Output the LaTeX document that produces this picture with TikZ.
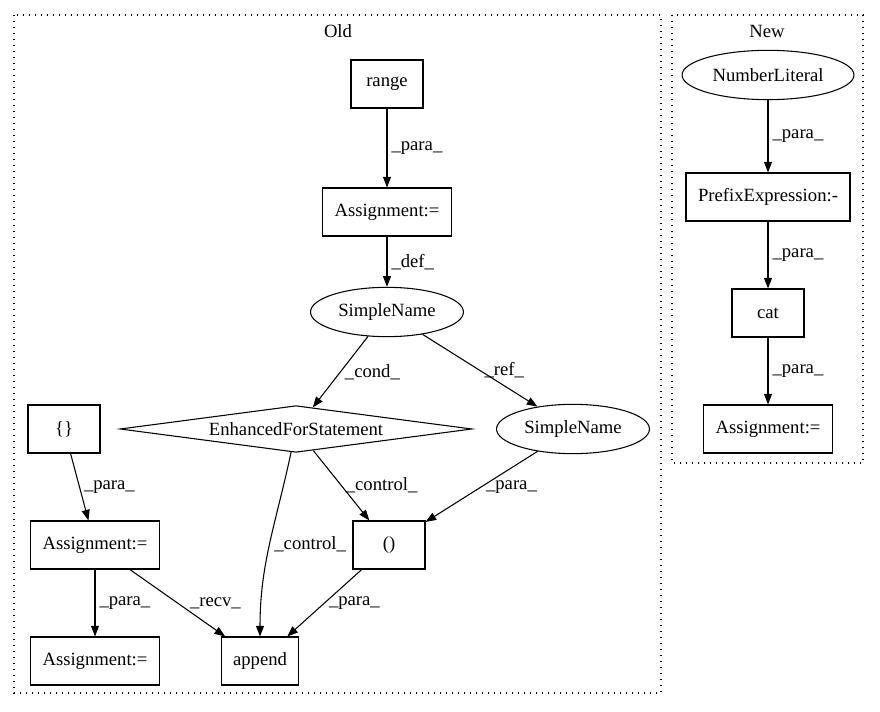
\documentclass[tikz,border=0pt]{standalone}
\usepackage{fontspec}
\setmainfont{Liberation Serif}
\usetikzlibrary{shapes.geometric,arrows.meta}

\tikzset{
  boite/.style={rectangle, draw, line width=0.8pt, minimum width=54pt, minimum height=36pt, inner xsep=9pt},
  ovale/.style={ellipse, draw, line width=0.8pt, minimum height=37pt, inner xsep=4pt},
  losange/.style={diamond, draw, line width=0.8pt, aspect=7.5, inner sep=0pt, minimum width=264pt, minimum height=35pt},
  fleche/.style={-{Triangle[length=8pt,width=6pt]}, line width=0.8pt},
  etiq/.style={anchor=west, inner sep=3pt},
  groupe/.style={draw, line width=0.8pt, dash pattern=on 0.8pt off 3.7pt}
}

\begin{document}
\begin{tikzpicture}[x=0.75pt, y=-0.75pt, font=\fontsize{14}{16}\selectfont]
    \useasboundingbox (0,0) rectangle (880,712);

    % Cadres des deux groupes
    \draw[groupe] (14,15) rectangle (661,693);
    \draw[groupe] (672,15) rectangle (863,463);
    \node (Old) at (338,31) {Old};
    \node (New) at (767,31) {New};

    % Noeuds du groupe Old
    \node[boite] (R) at (387, 84) {range};
    \node[boite] (A1) at (387, 212) {Assignment:=};
    \node[ovale] (S1) at (387, 312) {SimpleName};
    \node[losange] (E) at (296, 429) {EnhancedForStatement};
    \node[ovale] (S2) at (573, 429) {SimpleName};
    \node[boite] (V) at (64, 429) {\{\}};
    \node[boite] (A2) at (95, 545) {Assignment:=};
    \node[boite] (P) at (389, 545) {()};
    \node[boite] (A3) at (95, 661) {Assignment:=};
    \node[boite] (App) at (260, 661) {append};

    % Noeuds du groupe New
    \node[ovale] (N) at (768, 75) {NumberLiteral};
    \node[boite] (PE) at (768, 197) {PrefixExpression:-};
    \node[boite] (Cat) at (768, 313) {cat};
    \node[boite] (A4) at (768, 429) {Assignment:=};

    % Aretes du groupe Old
    \draw[fleche] (R) -- (A1) node[etiq, midway] {\_para\_};
    \draw[fleche] (A1) -- (S1) node[etiq, midway] {\_def\_};
    \draw[fleche] (S1) -- (E) node[etiq, midway] {\_cond\_};
    \draw[fleche] (S1) -- (S2) node[etiq, midway] {\_ref\_};
    \draw[fleche] (E) -- (P) node[etiq, midway] {\_control\_};
    \draw[fleche] (S2) -- (P) node[etiq, midway] {\_para\_};
    \draw[fleche] (E) to[out=-102, in=90] node[etiq, midway] {\_control\_} (App);
    \draw[fleche] (V) -- (A2) node[etiq, midway] {\_para\_};
    \draw[fleche] (A2) -- (A3) node[etiq, midway] {\_para\_};
    \draw[fleche] (A2) -- (App) node[etiq, midway, xshift=6pt] {\_recv\_};
    \draw[fleche] (P) -- (App) node[etiq, midway] {\_para\_};

    % Aretes du groupe New
    \draw[fleche] (N) -- (PE) node[etiq, midway] {\_para\_};
    \draw[fleche] (PE) -- (Cat) node[etiq, midway] {\_para\_};
    \draw[fleche] (Cat) -- (A4) node[etiq, midway] {\_para\_};

\end{tikzpicture}
\end{document}
